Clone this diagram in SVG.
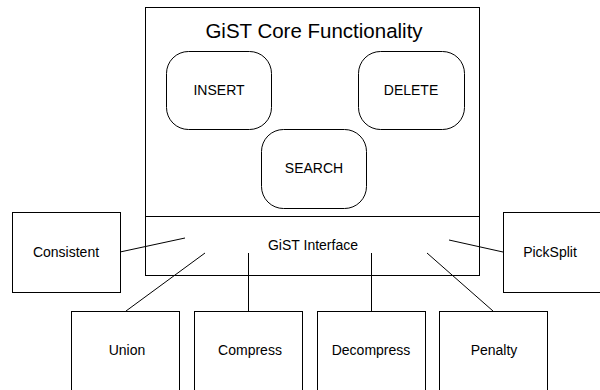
<svg xmlns="http://www.w3.org/2000/svg" width="600" height="390" viewBox="0 0 600 390">
<style>
rect{fill:#fff;stroke:#000;stroke-width:1}
text{font-family:"Liberation Sans",Arial,sans-serif;font-size:14px;fill:#000;text-anchor:middle}
.title{font-size:20.5px}
line{stroke:#000;stroke-width:1}
</style>
<rect x="0" y="0" width="600" height="390" style="stroke:none"/>
<g id="core">
<rect x="145.5" y="7.5" width="334" height="268"/>
<line x1="145.5" y1="216.5" x2="479.5" y2="216.5"/>
<text class="title" x="314" y="38">GiST Core Functionality</text>
<text x="313" y="250">GiST Interface</text>
</g>
<g id="insert"><rect x="166.5" y="51.5" width="105" height="78" rx="22"/><text x="219" y="95">INSERT</text></g>
<g id="delete"><rect x="358.5" y="51.5" width="106" height="78" rx="22"/><text x="411" y="95">DELETE</text></g>
<g id="search"><rect x="261.5" y="129.5" width="105" height="79" rx="22"/><text x="314" y="173">SEARCH</text></g>
<g id="consistent"><rect x="12.5" y="212.5" width="108" height="80"/><text x="66" y="257">Consistent</text></g>
<g id="picksplit"><rect x="503.5" y="212.5" width="110" height="80"/><text x="550" y="257">PickSplit</text></g>
<g id="union"><rect x="71.5" y="311.5" width="108" height="90"/><text x="127" y="355">Union</text></g>
<g id="compress"><rect x="194.5" y="311.5" width="108" height="90"/><text x="250" y="355">Compress</text></g>
<g id="decompress"><rect x="317.5" y="311.5" width="108" height="90"/><text x="371" y="355">Decompress</text></g>
<g id="penalty"><rect x="439.5" y="311.5" width="108" height="90"/><text x="494" y="355">Penalty</text></g>
<g id="connectors">
<line x1="120" y1="252" x2="185" y2="238"/>
<line x1="503" y1="252" x2="449" y2="240"/>
<line x1="126" y1="311" x2="205" y2="253"/>
<line x1="248.5" y1="253" x2="248.5" y2="311"/>
<line x1="371.5" y1="253" x2="371.5" y2="311"/>
<line x1="427" y1="253" x2="493" y2="311"/>
</g>
</svg>
